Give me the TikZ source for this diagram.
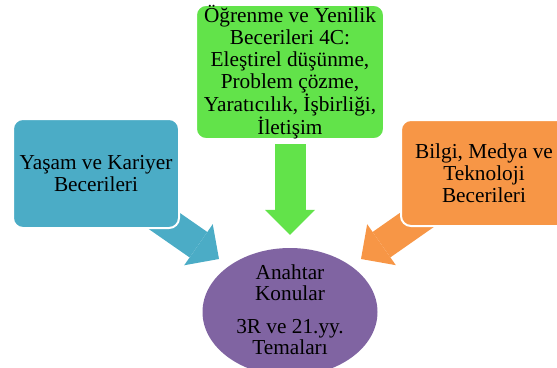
\documentclass[tikz,border=0pt]{standalone}
\usepackage{fontspec}
\setmainfont{Liberation Serif}
\usetikzlibrary{shapes.geometric,arrows.meta,backgrounds}
\definecolor{yasamblue}{HTML}{4BACC6}
\definecolor{ogrgreen}{HTML}{62E34A}
\definecolor{bilgiorange}{HTML}{F79646}
\definecolor{konupurple}{HTML}{8064A2}

\begin{document}
\begin{tikzpicture}[x=1pt,y=1pt,
  skillbox/.style={rectangle,rounded corners=10pt,draw=white,line width=2pt,
    align=center,inner xsep=3pt,inner ysep=0pt,font=\fontsize{21.3}{22}\selectfont},
  fatarrow/.style={line width=31pt,-{Triangle[length=25pt,width=50pt,line width=0pt]}}]
\useasboundingbox (0,0) rectangle (557,-367);
\clip (0,0) rectangle (557,-367);
% the three skill groups
\node [skillbox,fill=yasamblue,minimum width=166,minimum height=109] (yasam) at (96,-173.5)
  {Yaşam ve Kariyer\\Becerileri};
\node [skillbox,fill=ogrgreen,minimum width=188,minimum height=132] (ogrenme) at (290,-72)
  {Öğrenme ve Yenilik\\Becerileri 4C:\\Eleştirel düşünme,\\Problem çözme,\\Yaratıcılık, İşbirliği,\\İletişim};
\node [skillbox,fill=bilgiorange,minimum width=166,minimum height=106] (bilgi) at (484,-173)
  {Bilgi, Medya ve\\Teknoloji\\Becerileri};
% the core
\node [ellipse,fill=konupurple,inner sep=0pt,minimum width=175,minimum height=128,
  label={[align=center,yshift=2pt,font=\fontsize{21.3}{21}\selectfont]center:Anahtar\\Konular\\[12pt]3R ve 21.yy.\\Temaları}]
  (konu) at (290,-312) {};
\coordinate (tipL) at (219,-259);
\coordinate (tipR) at (361,-259);
\begin{scope}[on background layer]
\draw [fatarrow,yasamblue] (yasam.center) -- (tipL);
\draw [fatarrow,bilgiorange] (bilgi.center) -- (tipR);
\end{scope}
\draw [fatarrow,ogrgreen] ([yshift=-4pt]ogrenme.south) -- ([yshift=13pt]konu.north);
\end{tikzpicture}
\end{document}
